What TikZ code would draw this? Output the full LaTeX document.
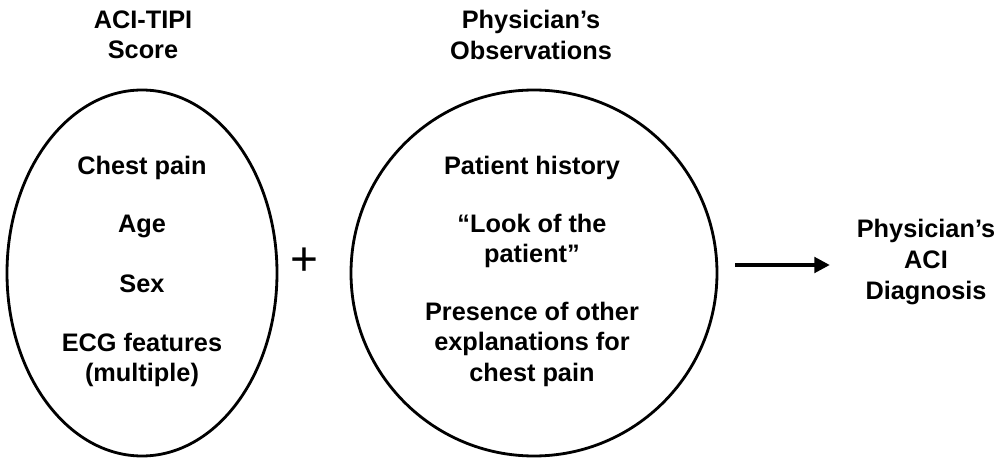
\documentclass[tikz,border=0pt]{standalone}
\usepackage{fontspec}
\setmainfont{Liberation Sans}
\usetikzlibrary{arrows.meta}

\tikzset{
	itemtext/.style={align=center, inner sep=0pt, font=\fontsize{18}{21.7}\selectfont\bfseries},
	outline/.style={line width=2pt}
}

\begin{document}
\begin{tikzpicture}[x=0.025cm, y=-0.025cm]
	\useasboundingbox (0,0) rectangle (1002,458);

	\def\scoreX{142};
	\def\obsX{534};
	\def\midY{273};

	% the two groups
	\begin{scope}[outline]
		\draw (\scoreX,\midY) ellipse [x radius=135, y radius=183];
		\draw (\obsX,\midY) ellipse [x radius=183, y radius=183];
	\end{scope}

	\node [itemtext] (scoreTitle) at (143,35) {ACI-TIPI\\Score};
	\node [itemtext] (obsTitle) at (531,35) {Physician’s\\Observations};

	\begin{scope}
		\node [itemtext] (pain) at (\scoreX,168) {Chest pain};
		\node [itemtext] (age) at (\scoreX,226) {Age};
		\node [itemtext] (sex) at (\scoreX,284) {Sex};
		\node [itemtext] (ecg) at (\scoreX,360) {ECG features\\(multiple)};
	\end{scope}

	\begin{scope}
		\node [itemtext] (history) at (532,168) {Patient history};
		\node [itemtext] (look) at (532,241) {“Look of the\\patient”};
		\node [itemtext] (other) at (532,344) {Presence of other\\explanations for\\chest pain};
	\end{scope}

	\node [inner sep=0pt, font=\fontsize{34}{34}\selectfont] (plus) at (304,262) {+};

	\node [itemtext] (diagnosis) at (926,262) {Physician’s\\ACI\\Diagnosis};

	\coordinate (arrowStart) at (735,265);
	\draw [line width=2.5pt, shorten >=19pt, -{Triangle[length=11pt, width=11pt]}] (arrowStart) -- (arrowStart -| diagnosis.west);
\end{tikzpicture}
\end{document}
